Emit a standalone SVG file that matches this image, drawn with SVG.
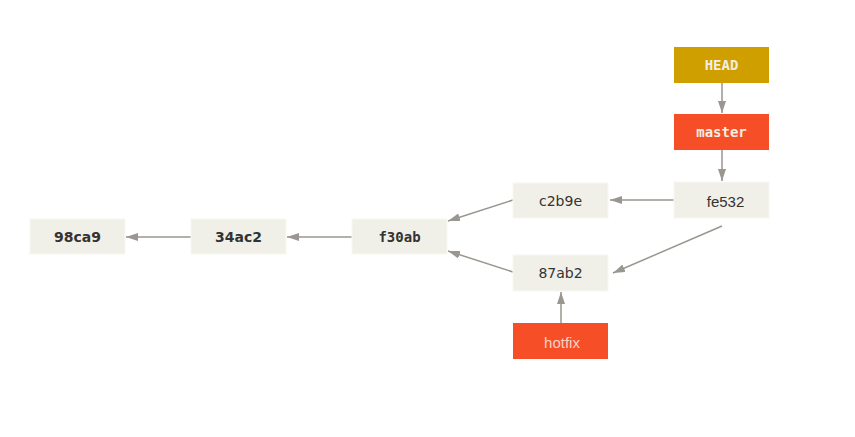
<svg xmlns="http://www.w3.org/2000/svg" width="855" height="437" viewBox="0 0 855 437">
<style>
.c{fill:#f0efe8;stroke:#f8f7f2;stroke-width:1}
.head{fill:#cf9f00}
.br{fill:#f64e27}
.mono{font-family:"DejaVu Sans Mono",monospace;font-weight:bold;font-size:14px;fill:#333}
.sans{font-family:"DejaVu Sans",sans-serif;font-size:14px;fill:#333}
.ar{font-family:"Liberation Sans",Arial,sans-serif;font-size:15px}
.lbl{font-family:"DejaVu Sans Mono",monospace;font-weight:bold;font-size:14px;fill:#f4eee0}
.e{stroke:#9a9690;stroke-width:1.5;fill:none;marker-end:url(#a)}
</style>
<defs>
<marker id="a" viewBox="0 0 12 8" refX="12" refY="4" markerWidth="12" markerHeight="8" markerUnits="userSpaceOnUse" orient="auto">
<path d="M0,0 L12,4 L0,8 z" fill="#9a9690"/>
</marker>
</defs>
<rect width="855" height="437" fill="#fff"/>
<g id="edges">
<line class="e" x1="722" y1="82" x2="722" y2="113"/>
<line class="e" x1="722" y1="150" x2="722" y2="181"/>
<line class="e" x1="674" y1="200" x2="610" y2="200"/>
<line class="e" x1="722" y1="226" x2="613" y2="273"/>
<line class="e" x1="513" y1="200" x2="448" y2="221"/>
<line class="e" x1="513" y1="272" x2="448" y2="251"/>
<line class="e" x1="352" y1="237" x2="287" y2="237"/>
<line class="e" x1="191" y1="237" x2="126" y2="237"/>
<line class="e" x1="561" y1="323" x2="561" y2="292"/>
</g>
<g id="HEAD"><rect class="head" x="674" y="47" width="95" height="36"/><text class="lbl" x="721.5" y="70" text-anchor="middle">HEAD</text></g>
<g id="master"><rect class="br" x="674" y="114" width="95" height="36"/><text class="lbl" x="721.5" y="137" text-anchor="middle">master</text></g>
<g id="fe532"><rect class="c" x="674" y="182" width="95" height="36"/><text class="ar" x="725.5" y="207" text-anchor="middle" fill="#333">fe532</text></g>
<g id="c2b9e"><rect class="c" x="513" y="183" width="95" height="35"/><text class="sans" x="560.5" y="205.5" text-anchor="middle">c2b9e</text></g>
<g id="87ab2"><rect class="c" x="513" y="255" width="95" height="36"/><text class="sans" x="560.5" y="278" text-anchor="middle">87ab2</text></g>
<g id="hotfix"><rect class="br" x="513" y="323" width="95" height="36"/><text class="ar" x="562" y="347.5" text-anchor="middle" fill="#f6d3c6" font-size="16">hotfix</text></g>
<g id="f30ab"><rect class="c" x="352" y="219" width="95" height="35"/><text class="mono" x="399.5" y="242" text-anchor="middle">f30ab</text></g>
<g id="34ac2"><rect class="c" x="191" y="219" width="95" height="35"/><text class="sans" x="238.5" y="242" text-anchor="middle" font-weight="bold">34ac2</text></g>
<g id="98ca9"><rect class="c" x="30" y="219" width="95" height="35"/><text class="sans" x="77.5" y="242" text-anchor="middle" font-weight="bold">98ca9</text></g>
</svg>
